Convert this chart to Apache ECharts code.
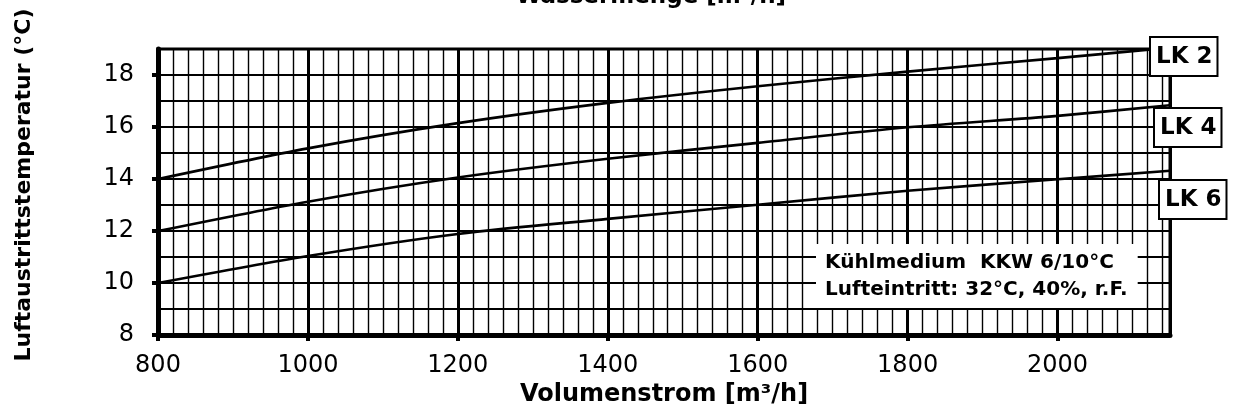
<!DOCTYPE html>
<html>
<head>
<meta charset="utf-8">
<title>Luftaustrittstemperatur</title>
<script src="https://cdn.jsdelivr.net/npm/echarts@6/dist/echarts.min.js"></script>
<style>
html, body { margin: 0; padding: 0; background: #fff; }
#chart { width: 1236px; height: 412px; }
</style>
</head>
<body>
<div id="chart"></div>
<script>
// Volumenstrom [m³/h]
var volumenstrom = [800, 1000, 1200, 1400, 1600, 1800, 2000, 2150];
// Luftaustrittstemperatur je Leistungsklasse
var lk2 = [14.0, 15.18, 16.15, 16.93, 17.57, 18.13, 18.65, 19.05];
var lk4 = [12.0, 13.13, 14.06, 14.78, 15.39, 15.99, 16.43, 16.84];
var lk6 = [10.0, 11.04, 11.89, 12.47, 13.01, 13.55, 13.99, 14.32];
var xTicks = [800, 1000, 1200, 1400, 1600, 1800, 2000];
var yTicks = [8, 10, 12, 14, 16, 18];
var seriesNames = ['LK 2', 'LK 4', 'LK 6'];
var noteLines = ['Kühlmedium  KKW 6/10°C', 'Lufteintritt: 32°C, 40%, r.F.'];

var FONT = '"DejaVu Sans", "Liberation Sans", Arial, sans-serif';

function pairs(xs, ys) {
    var out = [];
    for (var i = 0; i < xs.length; i++) {
        out.push([xs[i], ys[i]]);
    }
    return out;
}

function plain(v) {
    return String(v);
}

var chart = echarts.init(document.getElementById('chart'), null, { renderer: 'canvas' });

function curve(name, values) {
    return {
        name: name,
        type: 'line',
        xAxisIndex: 0,
        yAxisIndex: 0,
        data: pairs(volumenstrom, values),
        smooth: 0.3,
        showSymbol: false,
        symbol: 'none',
        clip: true,
        z: 5,
        lineStyle: { color: '#000', width: 2.6 }
    };
}

// nur Gitterlinien, keine Beschriftung
function gridAxis(min, max, step, width, pos) {
    return {
        type: 'value',
        min: min,
        max: max,
        interval: step,
        position: pos,
        axisLine: { show: false },
        axisTick: { show: false },
        axisLabel: { show: false },
        splitLine: { show: true, lineStyle: { color: '#000', width: width } },
        z: 2
    };
}

function boxLabel(text, x, y) {
    return {
        type: 'text',
        left: x,
        top: y,
        z: 20,
        style: {
            text: text,
            fill: '#000',
            font: 'bold 23px ' + FONT,
            backgroundColor: '#fff',
            borderColor: '#000',
            borderWidth: 2,
            padding: [8, 4, 6, 5]
        }
    };
}

var option = {
    backgroundColor: '#fff',
    animation: false,
    textStyle: { fontFamily: FONT },
    grid: {
        left: 158,
        right: 66,
        top: 49,
        bottom: 75,
        show: true,
        borderColor: '#000',
        borderWidth: 3,
        backgroundColor: '#fff'
    },
    xAxis: [
        {
            type: 'value',
            min: 800,
            max: 2150,
            interval: 200,
            name: 'Volumenstrom [m³/h]',
            nameLocation: 'middle',
            nameGap: 42,
            nameTextStyle: { fontFamily: FONT, fontWeight: 'bold', fontSize: 24, color: '#000' },
            axisLine: { show: true, onZero: false, lineStyle: { color: '#000', width: 5 } },
            axisTick: { show: true, customValues: xTicks, length: 6, lineStyle: { color: '#000', width: 4 } },
            axisLabel: { customValues: xTicks, formatter: plain, margin: 19, fontSize: 24, color: '#000', fontFamily: FONT },
            splitLine: { show: false },
            z: 4
        },
        gridAxis(800, 2150, 20, 1.4, 'bottom'),
        gridAxis(800, 2150, 200, 3, 'bottom')
    ],
    yAxis: [
        {
            type: 'value',
            min: 8,
            max: 19,
            interval: 1,
            axisLine: { show: true, onZero: false, lineStyle: { color: '#000', width: 5 } },
            axisTick: { show: true, customValues: yTicks, length: 6, lineStyle: { color: '#000', width: 4 } },
            axisLabel: { customValues: yTicks, formatter: plain, margin: 24, fontSize: 24, color: '#000', fontFamily: FONT },
            splitLine: { show: false },
            z: 4
        },
        gridAxis(8, 19, 1, 2, 'left')
    ],
    series: [
        curve(seriesNames[0], lk2),
        curve(seriesNames[1], lk4),
        curve(seriesNames[2], lk6)
    ],
    graphic: [
        {
            type: 'text',
            x: 651,
            y: 9,
            z: 20,
            style: {
                text: 'Wassermenge [m³/h]',
                fill: '#000',
                font: 'bold 23px ' + FONT,
                align: 'center',
                verticalAlign: 'bottom'
            }
        },
        {
            type: 'text',
            x: 24,
            y: 185,
            rotation: Math.PI / 2,
            z: 20,
            style: {
                text: 'Luftaustrittstemperatur (°C)',
                fill: '#000',
                font: 'bold 22px ' + FONT,
                align: 'center',
                verticalAlign: 'middle'
            }
        },
        boxLabel(seriesNames[0], 1149, 36),
        boxLabel(seriesNames[1], 1153, 107),
        boxLabel(seriesNames[2], 1158, 179),
        {
            type: 'text',
            left: 816,
            top: 244,
            z: 20,
            style: {
                text: noteLines.join('\n'),
                fill: '#000',
                font: 'bold 20px ' + FONT,
                lineHeight: 27,
                backgroundColor: '#fff',
                padding: [5, 10, 5, 9]
            }
        }
    ]
};

chart.setOption(option);

window.addEventListener('resize', function() {
    chart.resize();
});
</script>
</body>
</html>
